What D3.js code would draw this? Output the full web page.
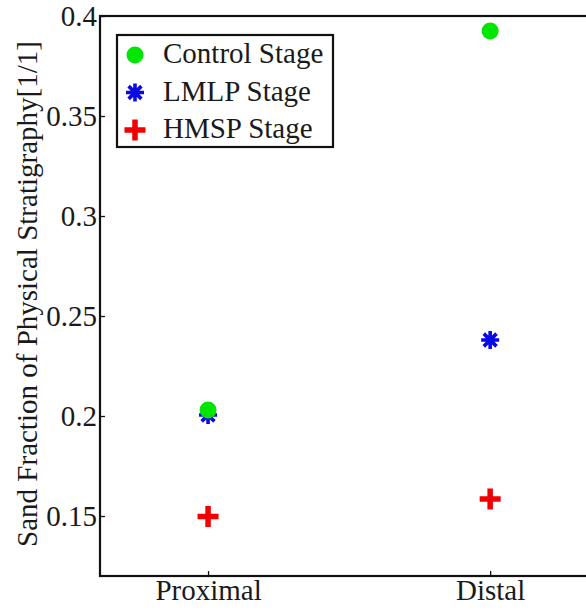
<!DOCTYPE html>
<html>
<head>
<meta charset="utf-8">
<script src="https://cdn.jsdelivr.net/npm/d3@7"></script>
<style>
  body { margin: 0; background: #fff; }
  svg { display: block; }
</style>
</head>
<body>
<svg width="586" height="610"></svg>
<script>
// data
const locations = ["Proximal", "Distal"];
const locationPos = [1, 2];
const controlStage = [0.203, 0.3925];
const lmlpStage = [0.2005, 0.238];
const hmspStage = [0.1497, 0.1585];
const yTicks = [0.15, 0.2, 0.25, 0.3, 0.35, 0.4];

const fontFam = "'Liberation Serif', 'Times New Roman', serif";
const fontSize = 29;

const svg = d3.select("svg");

const margin = {top: 16, left: 100};
const bottom = 576;
const right = 603;

let x = d3.scaleLinear().domain([0.617, 2.4]).range([margin.left, right]);
let y = d3.scaleLinear().domain([0.12, 0.4]).range([bottom, margin.top]);

// frame
svg.append("rect")
    .attr("x", margin.left)
    .attr("y", margin.top)
    .attr("width", right - margin.left)
    .attr("height", bottom - margin.top)
    .attr("fill", "none")
    .attr("stroke", "#111")
    .attr("stroke-width", 2.2);

// y axis, ticks pointing inward
let yAxis = svg.append("g")
    .attr("transform", "translate(" + margin.left + ",0)")
    .call(d3.axisLeft(y).tickValues(yTicks).tickFormat(d => String(d)).tickSize(-5).tickPadding(3));
yAxis.select(".domain").remove();
yAxis.selectAll("line").attr("stroke", "#111").attr("stroke-width", 1.3);
yAxis.selectAll("text")
    .style("font-family", fontFam)
    .style("font-size", fontSize + "px")
    .attr("fill", "#1a1a1a");

// x axis
let xAxis = svg.append("g")
    .attr("transform", "translate(0," + bottom + ")")
    .call(d3.axisBottom(x).tickValues(locationPos).tickFormat((d, i) => locations[i]).tickSize(-5).tickPadding(3.5));
xAxis.select(".domain").remove();
xAxis.selectAll("line").attr("stroke", "#111").attr("stroke-width", 1.3);
xAxis.selectAll("text")
    .style("font-family", fontFam)
    .style("font-size", fontSize + "px")
    .attr("fill", "#1a1a1a");

// y label
svg.append("text")
    .attr("transform", "translate(37,294) rotate(-90)")
    .attr("text-anchor", "middle")
    .style("font-family", fontFam)
    .style("font-size", fontSize + "px")
    .attr("fill", "#1a1a1a")
    .text("Sand Fraction of Physical Stratigraphy[1/1]");

// markers
function drawCircle(g, cx, cy) {
    g.append("circle").attr("cx", cx).attr("cy", cy).attr("r", 8.5).attr("fill", "#00e600");
}
function drawStar(g, cx, cy) {
    let r = 9;
    let p = "";
    [0, 45, 90, 135].forEach(a => {
        let t = a * Math.PI / 180;
        p += "M" + (cx - r * Math.cos(t)) + "," + (cy - r * Math.sin(t)) + "L" + (cx + r * Math.cos(t)) + "," + (cy + r * Math.sin(t));
    });
    g.append("path").attr("d", p).attr("stroke", "#0a0ae6").attr("stroke-width", 3.6).attr("fill", "none");
}
function drawPlus(g, cx, cy) {
    let r = 10.5;
    g.append("path")
        .attr("d", "M" + (cx - r) + "," + cy + "H" + (cx + r) + "M" + cx + "," + (cy - r) + "V" + (cy + r))
        .attr("stroke", "#f00000").attr("stroke-width", 5.5).attr("fill", "none");
}

let marks = svg.append("g");
locationPos.forEach((d, i) => drawStar(marks, x(d), y(lmlpStage[i])));
locationPos.forEach((d, i) => drawCircle(marks, x(d), y(controlStage[i])));
locationPos.forEach((d, i) => drawPlus(marks, x(d), y(hmspStage[i])));

// legend
let legend = svg.append("g").attr("transform", "translate(117,35)");
legend.append("rect")
    .attr("width", 216).attr("height", 112)
    .attr("fill", "#fff").attr("stroke", "#111").attr("stroke-width", 2.2);
const legendNames = ["Control Stage", "LMLP Stage", "HMSP Stage"];
const legendDraw = [drawCircle, drawStar, drawPlus];
legendNames.forEach((name, i) => {
    let cy = 20 + i * 37.5;
    legendDraw[i](legend, 18, cy);
    legend.append("text")
        .attr("x", 46).attr("y", cy + 8)
        .style("font-family", fontFam)
        .style("font-size", fontSize + "px")
        .attr("fill", "#1a1a1a")
        .text(name);
});
</script>
</body>
</html>
